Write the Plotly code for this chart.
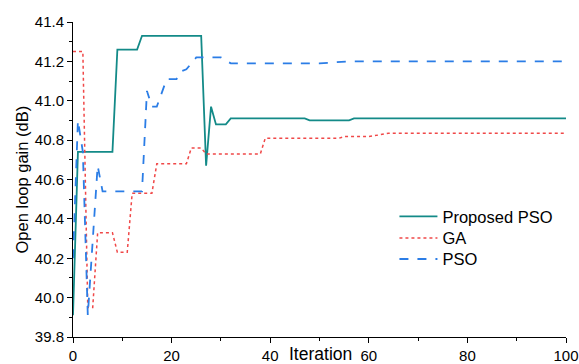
import plotly.graph_objects as go

# Proposed PSO
pso_p_x = [0, 1, 8, 9, 13, 14, 26, 27, 28, 29, 31, 32, 47, 48, 56, 57, 100]
pso_p_y = [39.91, 40.74, 40.74, 41.26, 41.26, 41.33, 41.33, 40.67, 40.97, 40.88, 40.88, 40.91, 40.91, 40.90, 40.90, 40.91, 40.91]

# GA
ga_x = [0, 2, 3, 4, 5, 8, 9, 11, 12, 16, 17, 23, 24, 26, 27, 38, 39, 54, 55, 60, 62, 64, 100]
ga_y = [41.25, 41.25, 39.95, 39.95, 40.33, 40.33, 40.23, 40.23, 40.53, 40.53, 40.68, 40.68, 40.76, 40.76, 40.73, 40.73, 40.81, 40.81, 40.818, 40.818, 40.826, 40.835, 40.835]

# PSO
pso_x = [0, 1, 2, 3, 5, 6, 14, 15, 16, 17, 19, 21, 22, 23, 25, 30, 32, 50, 56, 100]
pso_y = [40.20, 40.90, 40.74, 39.91, 40.67, 40.54, 40.54, 41.05, 40.97, 40.97, 41.11, 41.11, 41.15, 41.16, 41.22, 41.22, 41.19, 41.19, 41.20, 41.20]

fig = go.Figure()
fig.add_trace(go.Scatter(x=pso_p_x, y=pso_p_y, mode="lines", name="Proposed PSO",
                         line=dict(color="#138a88", width=1.8), legend="legend"))
fig.add_trace(go.Scatter(x=ga_x, y=ga_y, mode="lines", name="GA",
                         line=dict(color="#f04848", width=1.5, dash="dot"), legend="legend2"))
fig.add_trace(go.Scatter(x=pso_x, y=pso_y, mode="lines", name="PSO",
                         line=dict(color="#2b7de6", width=1.8, dash="dash"), legend="legend3"))

font = "Liberation Sans, Arial, sans-serif"
leg_common = dict(x=0.652, xanchor="left", yanchor="middle", itemwidth=38,
                  font=dict(size=16.5), bgcolor="rgba(0,0,0,0)", borderwidth=0)
fig.update_layout(
    width=579, height=364,
    margin=dict(l=73, r=13, t=22, b=27),
    paper_bgcolor="white", plot_bgcolor="white",
    font=dict(family=font, size=15, color="black"),
    showlegend=True,
    legend=dict(y=0.3819, **leg_common),
    legend2=dict(y=0.3133, **leg_common),
    legend3=dict(y=0.2467, **leg_common),
    xaxis=dict(range=[0, 100], dtick=20, tick0=0, showgrid=False, zeroline=False,
               automargin=False,
               showline=True, linecolor="black", linewidth=1,
               ticks="outside", ticklen=5, tickcolor="black",
               minor=dict(dtick=10, ticks="outside", ticklen=3, tickcolor="black")),
    yaxis=dict(range=[39.8, 41.4], dtick=0.2, tick0=39.8, tickformat=".1f",
               showgrid=False, zeroline=False, automargin=False,
               showline=True, linecolor="black", linewidth=1,
               ticks="outside", ticklen=5, tickcolor="black",
               minor=dict(dtick=0.1, ticks="outside", ticklen=3, tickcolor="black")),
    annotations=[
        dict(text="Iteration", xref="paper", yref="paper", x=0.503, y=-0.092,
             xanchor="center", yanchor="bottom", showarrow=False, font=dict(size=17.5)),
        dict(text="Open loop gain (dB)", xref="paper", yref="paper", x=-0.1035, y=0.5,
             xanchor="center", yanchor="middle", textangle=-90, showarrow=False,
             font=dict(size=16.5)),
    ],
)

fig.write_html("out.html")
